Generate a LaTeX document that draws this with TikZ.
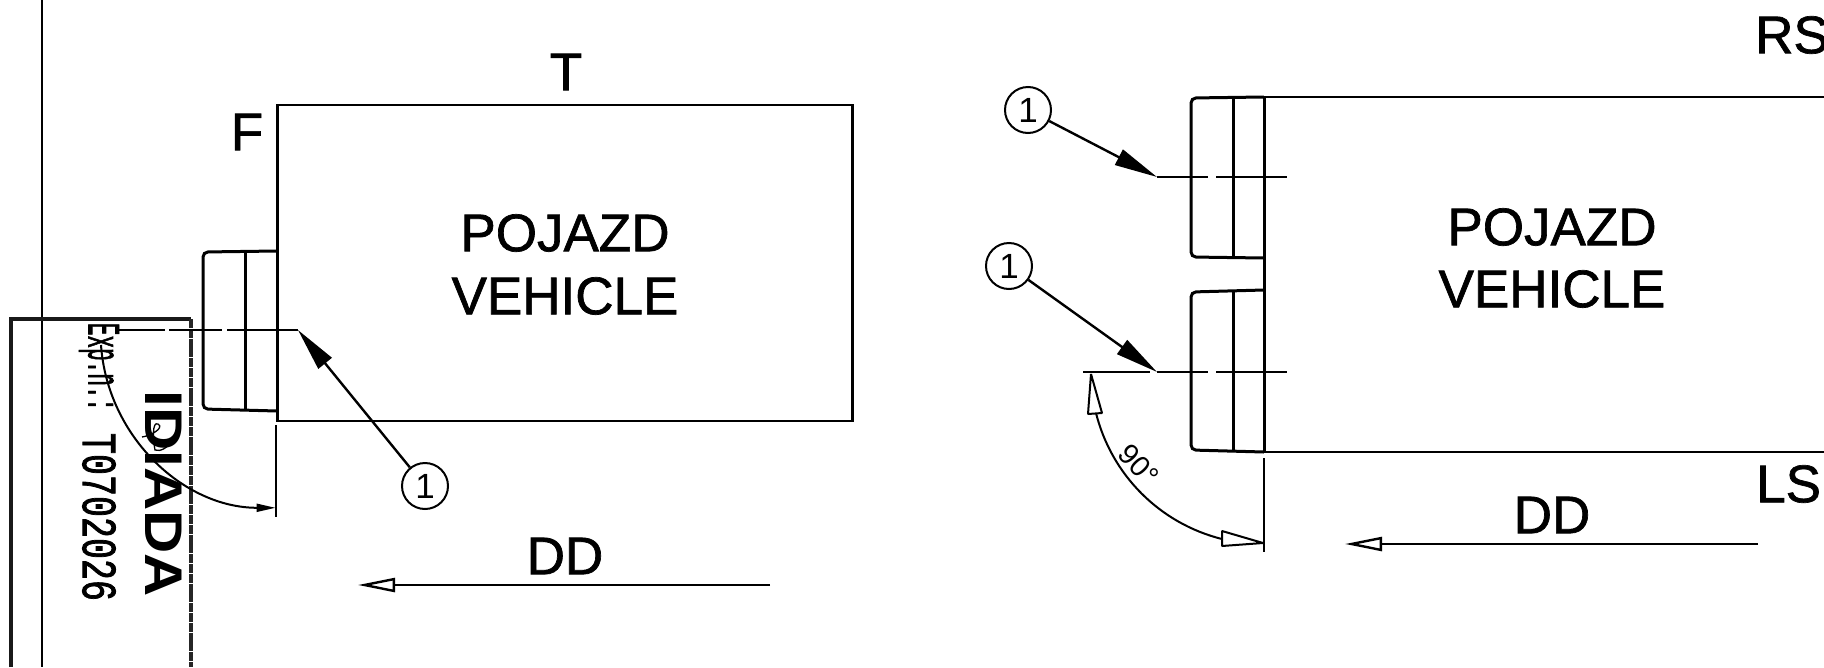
\documentclass[tikz,border=0pt]{standalone}
\usepackage{fontspec}
\setmainfont[FakeBold=1.3]{Liberation Sans}
\newfontfamily\plainsans{Liberation Sans}
\newfontfamily\stampmono[FakeBold=2]{Liberation Mono}
\usetikzlibrary{arrows.meta}
\tikzset{
  x=1pt,y=-1pt,
  outline/.style={line width=2.2pt,black},
  blockline/.style={line width=3pt,black,rounded corners=5pt},
  divider/.style={line width=3pt,black},
  thinline/.style={line width=2pt,black},
  centre/.style={line width=2.4pt,black},
  leaderline/.style={line width=2.4pt,black,-{Triangle[length=43pt,width=17pt]}},
  dirarrow/.style={line width=2pt,black,-{Triangle[open,fill=white,length=37pt,width=14pt,line width=2.4pt]}},
  headopen/.style={draw=black,fill=white,line width=2pt,line join=bevel},
  balloon/.style={circle,draw=black,line width=2pt,fill=white,minimum size=46pt,inner sep=0pt,font=\plainsans\fontsize{35}{35}\selectfont},
  bigtext/.style={inner sep=0pt,font=\fontsize{53}{53}\selectfont},
  stampedge/.style={line width=4.5pt,black!85,dash pattern=on 9pt off 0.8pt},
}
\begin{document}
\begin{tikzpicture}
\useasboundingbox (0,0) rectangle (1824,667);
\fill[white] (0,0) rectangle (1824,667);

% frame line and stamp
\coordinate (frameT) at (42,0); \coordinate (frameB) at (42,667);
\draw[line width=2.4pt] (frameT) -- (frameB);
\coordinate (stBL) at (11,667); \coordinate (stTL) at (11,319);
\coordinate (stTR) at (191,319); \coordinate (stBR) at (191,667);
\draw[line width=3.4pt,black!90] (stBL) -- (stTL) -- (stTR);
\draw[stampedge] (stTR) -- (stBR);
\node[rotate=-90,inner sep=0pt] (stampname) at (164,494) {\plainsans\fontsize{53}{53}\selectfont\bfseries\scalebox{1.13}[1]{IDIADA}};
\node[rotate=-90,inner sep=0pt] (stampexp) at (99,367) {\stampmono\fontsize{21}{21}\selectfont\scalebox{1}[2.2]{Exp.n.:}};
\node[rotate=-90,inner sep=0pt] (stampnum) at (99,517) {\stampmono\fontsize{35}{35}\selectfont\scalebox{1}[1.4]{T0702026}};
\draw[line width=1.3pt] (142,437) .. controls (150,436) and (165,428) .. (158,424) .. controls (152,421) and (153,440) .. (155,450) .. controls (160,452) and (168,448) .. (172,440);

% left view
\node[draw=black,line width=2.2pt,minimum width=575pt,minimum height=316pt,inner sep=0pt] (vehL) at (565,263) {};
\node[bigtext] (pojL) at (565,233) {POJAZD};
\node[bigtext] (vehtL) at (565,296) {VEHICLE};
\node[bigtext] (topT) at (566,72) {T};
\node[bigtext] (frontF) at (247,132) {F};
\coordinate (blTR) at (277,251); \coordinate (blTL) at (203,252);
\coordinate (blBL) at (203,409); \coordinate (blBR) at (277,411);
\draw[blockline] (blTR) -- (blTL) -- (blBL) -- (blBR);
\draw[divider] (245,252) -- (245,409);
\draw[divider] (blTR) -- (blBR);
\coordinate (cLa) at (117,330); \coordinate (cLb) at (165,330);
\coordinate (cLc) at (169,330); \coordinate (cLd) at (222,330);
\coordinate (cLe) at (227,330); \coordinate (tipL) at (298,330);
\draw[centre] (cLa) -- (cLb) (cLc) -- (cLd) (cLe) -- (tipL);
\node[balloon] (balL) at (425,486) {1};
\draw[leaderline] (balL) -- (tipL);
\coordinate (extLa) at (276,425); \coordinate (extLb) at (276,517);
\draw[thinline] (extLa) -- (extLb);
\draw[line width=2pt,-{Triangle[length=19pt,width=8pt]}] (101,345) arc[start angle=176,end angle=90,radius=175];
\coordinate (ddLs) at (770,585); \coordinate (ddLt) at (358,585);
\draw[dirarrow] (ddLs) -- (ddLt);
\node[bigtext] (ddL) at (565,556) {DD};

% right view
\coordinate (rvTL) at (1264,97); \coordinate (rvTR) at (1824,97);
\coordinate (rvBL) at (1264,452); \coordinate (rvBR) at (1824,452);
\draw[outline] (rvTR) -- (rvTL) (rvBL) -- (rvBR);
\draw[divider] (rvTL) -- (rvBL);
\node[bigtext] (pojR) at (1552,227) {POJAZD};
\node[bigtext] (vehtR) at (1552,289) {VEHICLE};
\node[bigtext,anchor=west] (rsR) at (1755,35) {RS};
\node[bigtext,anchor=west] (lsR) at (1756,484) {LS};
\coordinate (ubTR) at (1264,97); \coordinate (ubTL) at (1191,98);
\coordinate (ubBL) at (1191,257); \coordinate (ubBR) at (1264,258);
\draw[blockline] (ubTR) -- (ubTL) -- (ubBL) -- (ubBR);
\draw[divider] (1233,98) -- (1233,257);
\coordinate (lbTR) at (1264,290); \coordinate (lbTL) at (1191,292);
\coordinate (lbBL) at (1191,450); \coordinate (lbBR) at (1264,452);
\draw[blockline] (lbTR) -- (lbTL) -- (lbBL) -- (lbBR);
\draw[divider] (1233,292) -- (1233,450);
\coordinate (tipU) at (1157,177); \coordinate (tipD) at (1157,372);
\draw[centre] (tipU) -- (1208,177) (1216,177) -- (1287,177);
\draw[centre] (tipD) -- (1208,372) (1216,372) -- (1287,372);
\draw[centre] (1083,372) -- (1150,372);
\node[balloon] (balU) at (1028,110) {1};
\node[balloon] (balD) at (1009,266) {1};
\draw[leaderline] (balU) -- (tipU);
\draw[leaderline] (balD) -- (tipD);
\coordinate (extRa) at (1264,458); \coordinate (extRb) at (1264,552);
\draw[thinline] (extRa) -- (extRb);
\draw[thinline] (1096,413) arc[start angle=166,end angle=104,radius=173];
\draw[headopen] (1091,374) -- (1102,413) -- (1088,414) -- cycle;
\draw[headopen] (1263,543) -- (1222,531) -- (1222,546) -- cycle;
\node[rotate=-47,inner sep=0pt,font=\plainsans\fontsize{29}{29}\selectfont] (ang) at (1139,465) {90°};
\coordinate (ddRs) at (1758,544); \coordinate (ddRt) at (1345,544);
\draw[dirarrow] (ddRs) -- (ddRt);
\node[bigtext] (ddR) at (1552,515) {DD};
\end{tikzpicture}
\end{document}
